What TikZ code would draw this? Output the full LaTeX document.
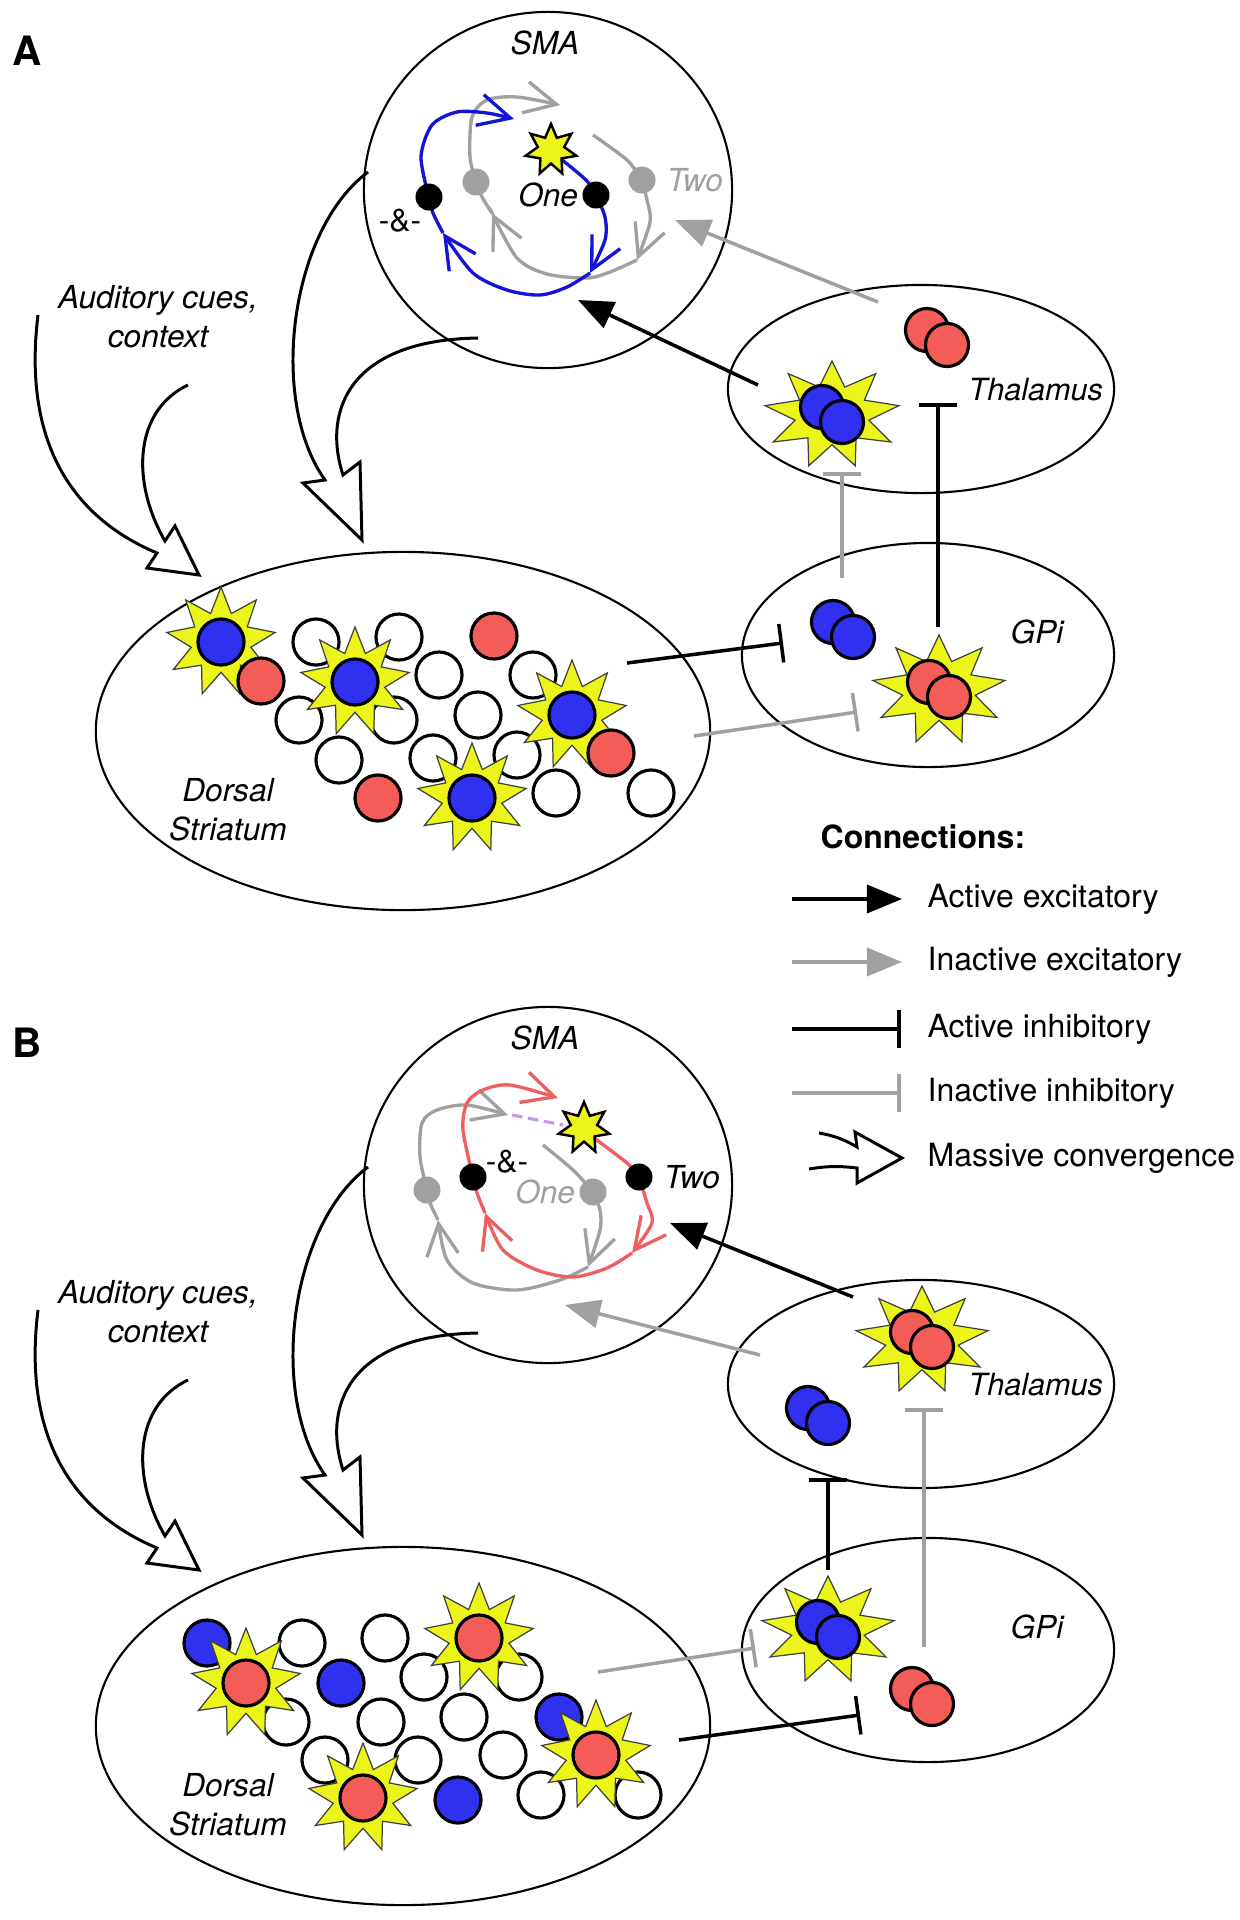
\documentclass[tikz,border=0pt]{standalone}
\usepackage{fontspec}
\setmainfont{TeX Gyre Heros}
\usetikzlibrary{arrows.meta,shapes.geometric,calc,positioning}

\definecolor{cellblue}{RGB}{48,48,240}
\definecolor{cellred}{RGB}{244,92,88}
\definecolor{burstyellow}{RGB}{235,245,25}
\definecolor{linegray}{RGB}{160,160,160}
\definecolor{loopblue}{RGB}{20,20,215}
\definecolor{loopred}{RGB}{240,95,95}
\definecolor{looppurple}{RGB}{200,150,235}

% 9-point burst behind an active cell: centre, x radius, y radius
\newcommand{\burst}[3]{\filldraw[burstline, shift={(#1)}] plot[variable=\k, samples at={0,...,17}] ({#2*(1-0.45*mod(\k,2))*cos(90+20*\k)}, {#3*(1-0.45*mod(\k,2))*sin(90+20*\k)}) -- cycle;}
% 7-point spark on the SMA loop
\newcommand{\spark}[1]{\filldraw[sparkline, shift={(#1)}] plot[variable=\k, samples at={0,...,13}] ({26*(1-0.48*mod(\k,2))*cos(90+180/7*\k)}, {26*(1-0.48*mod(\k,2))*sin(90+180/7*\k)}) -- cycle;}
% two overlapping cells: centre, colour, name
\newcommand{\cellpair}[3]{\node[paircell, fill=#2] (#3a) at ($(#1)+(-10,8)$) {}; \node[paircell, fill=#2] (#3b) at ($(#1)+(10,-7)$) {};}

\tikzset{
  region/.style={ellipse, draw, line width=0.6pt, inner sep=0pt},
  cell/.style={circle, draw, line width=0.9pt, minimum size=0.46cm, inner sep=0pt},
  paircell/.style={cell, minimum size=0.43cm},
  dot/.style={circle, fill=black, minimum size=0.27cm, inner sep=0pt},
  burstline/.style={fill=burstyellow, draw=black!75, line width=0.35pt},
  sparkline/.style={fill=burstyellow, draw=black, line width=0.7pt},
  lbl/.style={font=\fontsize{9}{11}\selectfont\itshape, inner sep=0pt},
  legtxt/.style={font=\fontsize{9.1}{11}\selectfont, inner sep=0pt, anchor=west},
  panellbl/.style={font=\fontsize{11.5}{13}\selectfont\bfseries, inner sep=0pt},
  exc/.style={line width=1pt, -{Triangle[length=10pt,width=8pt]}},
  inh/.style={line width=1pt, -{Bar[width=11pt]}},
  bulk/.style={line width=0.85pt, line join=miter},
  graypath/.style={draw=linegray, line width=0.95pt},
  bluepath/.style={draw=loopblue, line width=0.95pt},
  redpath/.style={draw=loopred, line width=0.95pt},
  tipv/.style={-{Straight Barb[length=9pt,width=9pt]}}
}

% regions, labels and convergence arrows shared by both panels
\newcommand{\panelframe}{%
  \node[region, minimum width=3.68cm, minimum height=3.56cm] (sma) at (548,-190) {};
  \node[region, minimum width=3.86cm, minimum height=2.08cm] (thal) at (921,-389) {};
  \node[region, minimum width=3.72cm, minimum height=2.24cm] (gpi) at (928,-655) {};
  \node[region, minimum width=6.14cm, minimum height=3.58cm] (str) at (403,-731) {};
  \node[lbl] (smalbl) at (545,-43) {SMA};
  \node[lbl, anchor=west, font=\fontsize{8.7}{11}\selectfont\itshape] (thallbl) at (968,-390) {Thalamus};
  \node[lbl, anchor=west] (gpilbl) at (1010,-632) {GPi};
  \node[lbl, align=center] (strlbl) at (228,-810) {Dorsal\\Striatum};
  \node[lbl, align=center] (cues) at (158,-317) {Auditory cues,\\context};
  \draw[bulk] (38,-315) .. controls (25,-420) and (55,-510) .. (157,-553) -- (147,-568) -- (199,-575) -- (175,-526) -- (165,-541) .. controls (130,-480) and (135,-410) .. (188,-385);
  \draw[bulk] (368,-172) .. controls (290,-230) and (268,-400) .. (325,-480) -- (303,-483) -- (362,-540) -- (360,-462) -- (343,-475) .. controls (322,-410) and (350,-340) .. (478,-338);
}

\begin{document}
\begin{tikzpicture}[x=0.01cm, y=0.01cm]
\useasboundingbox (0,0) rectangle (1240,-1920);

\node[panellbl] (pa) at (27,-51) {A};
\node[panellbl] (pb) at (27,-1043) {B};

%%%%% panel A
\begin{scope}[name prefix=a-]
\panelframe
% striatum
\foreach \x/\y [count=\i] in {316/642,399/637,439/675,533/675,299/720,394/720,478/715,339/760,433/758,517/755,556/793,651/793}
  \node[cell, fill=white] (w\i) at (\x,-\y) {};
\foreach \x/\y [count=\i] in {221/642,355/682,572/715,472/798}
  {\burst{\x,-\y}{55}{55} \node[cell, fill=cellblue] (on\i) at (\x,-\y) {};}
\foreach \x/\y [count=\i] in {261/681,494/636,611/753,378/798}
  \node[cell, fill=cellred] (off\i) at (\x,-\y) {};
% thalamus and GPi
\burst{832,-415}{68}{54}
\cellpair{832,-415}{cellblue}{thb}
\cellpair{937,-338}{cellred}{thr}
\cellpair{843,-630}{cellblue}{gpb}
\burst{939,-690}{67}{55}
\cellpair{939,-690}{cellred}{gpr}
% SMA loops
\coordinate (amp) at (429,-197);
\coordinate (one) at (596,-195);
\coordinate (gamp) at (476,-182);
\coordinate (two) at (642,-180);
\draw[graypath, tipv] plot[smooth] coordinates {(gamp) (470,-157) (472,-117) (487,-100) (517,-97) (560,-105)};
\draw[graypath] plot[smooth] coordinates {(593,-135) (627,-160) (two)};
\draw[graypath, tipv] plot[smooth] coordinates {(two) (647,-200) (650,-222) (637,-260)};
\draw[graypath, tipv] plot[smooth] coordinates {(637,-260) (610,-272) (587,-278) (547,-274) (517,-258) (492,-213)};
\draw[graypath] plot[smooth] coordinates {(492,-213) (482,-197) (gamp)};
\draw[bluepath, tipv] plot[smooth] coordinates {(amp) (421,-157) (432,-125) (457,-112) (487,-113) (514,-119)};
\draw[bluepath] plot[smooth] coordinates {(556,-155) (586,-180) (one)};
\draw[bluepath, tipv] plot[smooth] coordinates {(one) (605,-217) (605,-240) (590,-273)};
\draw[bluepath, tipv] plot[smooth] coordinates {(590,-273) (567,-287) (540,-295) (507,-290) (473,-273) (443,-233)};
\draw[bluepath] plot[smooth] coordinates {(443,-233) (433,-213) (amp)};
\node[dot, fill=linegray] (gampdot) at (gamp) {};
\node[dot, fill=linegray] (twodot) at (two) {};
\node[dot] (ampdot) at (amp) {};
\node[dot] (onedot) at (one) {};
\spark{551,-150}
\node[lbl, left=0.03cm of onedot] (onelbl) {One};
\node[lbl, text=linegray, right=0.1cm of twodot] (twolbl) {Two};
\node[lbl, font=\fontsize{9}{11}\selectfont] (amplbl) at (400,-221) {-\&-};
% connections
\coordinate (thbout) at (758,-385);  \coordinate (smain) at (578,-300);
\coordinate (throut) at (878,-302);  \coordinate (smain2) at (675,-220);
\coordinate (gpbout) at (842,-578);  \coordinate (thbin) at (842,-472);
\coordinate (gprout) at (938,-627);  \coordinate (thrin) at (938,-403);
\coordinate (strout1) at (627,-663); \coordinate (gpbin) at (783,-643);
\coordinate (strout2) at (694,-736); \coordinate (gprin) at (857,-712);
\draw[exc] (thbout) -- (smain);
\draw[exc, linegray] (throut) -- (smain2);
\draw[inh, linegray] (gpbout) -- (thbin);
\draw[inh] (gprout) -- (thrin);
\draw[inh] (strout1) -- (gpbin);
\draw[inh, linegray] (strout2) -- (gprin);
\end{scope}

%%%%% panel B
\begin{scope}[name prefix=b-, shift={(0,-995)}]
\panelframe
% striatum
\foreach \x/\y [count=\i] in {302/648,385/643,424/682,519/682,286/727,381/727,464/722,325/765,418/765,503/760,541/800,638/800}
  \node[cell, fill=white] (w\i) at (\x,-\y) {};
\foreach \x/\y [count=\i] in {207/648,341/688,559/722,458/805}
  \node[cell, fill=cellblue] (off\i) at (\x,-\y) {};
\foreach \x/\y [count=\i] in {246/688,479/643,596/760,363/803}
  {\burst{\x,-\y}{55}{55} \node[cell, fill=cellred] (on\i) at (\x,-\y) {};}
% thalamus and GPi
\cellpair{818,-421}{cellblue}{thb}
\burst{922,-345}{67}{54}
\cellpair{922,-345}{cellred}{thr}
\burst{828,-635}{67}{54}
\cellpair{828,-635}{cellblue}{gpb}
\cellpair{922,-702}{cellred}{gpr}
% SMA loops
\coordinate (amp) at (473,-182);
\coordinate (two) at (639,-182);
\coordinate (gamp) at (427,-195);
\coordinate (one) at (593,-197);
\draw[graypath, tipv] plot[smooth] coordinates {(gamp) (420,-162) (422,-128) (437,-115) (467,-110) (508,-120)};
\draw[draw=looppurple, line width=0.9pt, dash pattern=on 3pt off 1.6pt] (512,-120) -- (563,-130);
\draw[graypath] plot[smooth] coordinates {(543,-150) (573,-175) (one)};
\draw[graypath, tipv] plot[smooth] coordinates {(one) (600,-215) (600,-235) (588,-272)};
\draw[graypath, tipv] plot[smooth] coordinates {(588,-272) (560,-285) (517,-295) (473,-288) (447,-265) (438,-225)};
\draw[graypath] plot[smooth] coordinates {(438,-225) (430,-208) (gamp)};
\draw[redpath, tipv] plot[smooth] coordinates {(amp) (463,-135) (467,-108) (483,-95) (510,-90) (558,-103)};
\draw[redpath] plot[smooth] coordinates {(590,-140) (627,-168) (two)};
\draw[redpath, tipv] plot[smooth] coordinates {(two) (647,-208) (652,-228) (632,-258)};
\draw[redpath, tipv] plot[smooth] coordinates {(632,-258) (607,-273) (573,-282) (537,-275) (503,-255) (485,-218)};
\draw[redpath] plot[smooth] coordinates {(485,-218) (477,-198) (amp)};
\node[dot, fill=linegray] (gampdot) at (gamp) {};
\node[dot, fill=linegray] (onedot) at (one) {};
\node[dot] (ampdot) at (amp) {};
\node[dot] (twodot) at (two) {};
\spark{584,-133}
\node[lbl, text=linegray, left=0.03cm of onedot] (onelbl) {One};
\node[lbl, right=0.1cm of twodot] (twolbl) {Two};
\node[lbl, font=\fontsize{9}{11}\selectfont] (amplbl) at (507,-167) {-\&-};
% connections
\coordinate (throut) at (853,-302);  \coordinate (smain) at (670,-228);
\coordinate (thbout) at (760,-360);  \coordinate (smain2) at (565,-310);
\coordinate (gpbout) at (828,-575);  \coordinate (thbin) at (828,-483);
\coordinate (gprout) at (924,-652);  \coordinate (thrin) at (924,-413);
\coordinate (strout1) at (598,-677); \coordinate (gpbin) at (755,-653);
\coordinate (strout2) at (679,-745); \coordinate (gprin) at (860,-720);
\draw[exc] (throut) -- (smain);
\draw[exc, linegray] (thbout) -- (smain2);
\draw[inh] (gpbout) -- (thbin);
\draw[inh, linegray] (gprout) -- (thrin);
\draw[inh, linegray] (strout1) -- (gpbin);
\draw[inh] (strout2) -- (gprin);
\end{scope}

%%%%% legend
\node[legtxt, font=\fontsize{9.1}{11}\selectfont\bfseries] (legtitle) at (820,-837) {Connections:};
\node[legtxt] (leg1) at (927,-899) {Active excitatory};
\node[legtxt] (leg2) at (927,-962) {Inactive excitatory};
\node[legtxt] (leg3) at (927,-1029) {Active inhibitory};
\node[legtxt] (leg4) at (927,-1093) {Inactive inhibitory};
\node[legtxt] (leg5) at (927,-1158) {Massive convergence};
\draw[exc] ($(leg1.west)+(-135,0)$) -- ($(leg1.west)+(-25,0)$);
\draw[exc, linegray] ($(leg2.west)+(-135,0)$) -- ($(leg2.west)+(-25,0)$);
\draw[inh] ($(leg3.west)+(-135,0)$) -- ($(leg3.west)+(-26,0)$);
\draw[inh, linegray] ($(leg4.west)+(-135,0)$) -- ($(leg4.west)+(-26,0)$);
\begin{scope}[shift={(leg5.west)}]
\draw[bulk] (-108,25) to[bend left=10] (-70,11) -- (-72,26) -- (-25,0) -- (-70,-25) -- (-70,-10) to[bend right=8] (-118,-11);
\end{scope}
\end{tikzpicture}
\end{document}
